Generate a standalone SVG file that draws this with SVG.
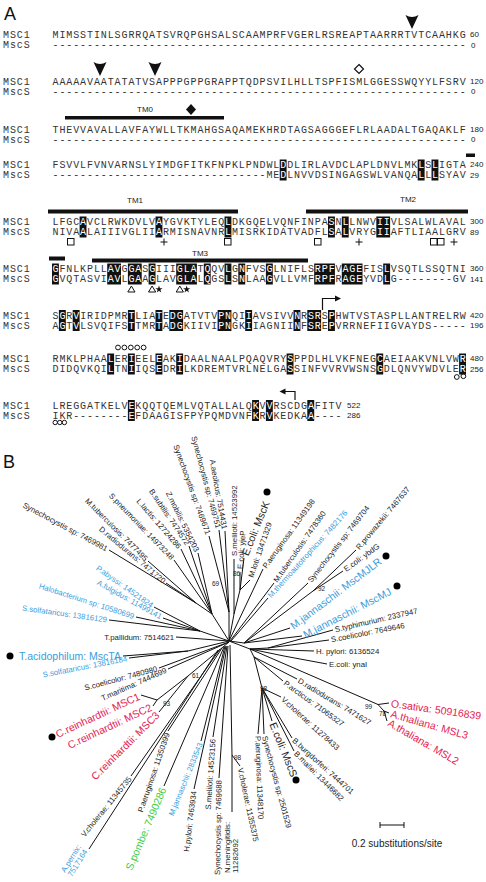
<svg xmlns="http://www.w3.org/2000/svg" width="486" height="882" viewBox="0 0 486 882">
<style>
.seq{font-family:"Liberation Mono",monospace;font-size:10px;letter-spacing:0.9px;fill:#333}
.w{fill:#fff}
.hl{fill:#111}
.num{font-family:"Liberation Sans",Arial,sans-serif;font-size:8px;fill:#222}
.tm{font-family:"Liberation Sans",Arial,sans-serif;font-size:8px;fill:#222}
.bar{fill:#111}
.sym{fill:none;stroke:#111;stroke-width:1}
.panel{font-family:"Liberation Sans",Arial,sans-serif;font-size:18px;fill:#111}
.t{font-family:"Liberation Sans",Arial,sans-serif;font-size:7.8px;fill:#222}
.e{text-anchor:end}
.b{font-size:10.5px}
.bl{fill:#3a9ddc}
.rd{fill:#e41b50}
.gr{fill:#3fcc3f}
.bs{font-family:"Liberation Sans",Arial,sans-serif;font-size:6.5px;fill:#222}
.edge{fill:none;stroke:#111;stroke-width:1}
.dot{fill:#000}
</style>
<defs>
<path id="arrowhead" d="M-6.5,0 Q0,4 6.5,0 L0,14 Z" fill="#111"/>
</defs>

<g id="panelA">
<text class="panel" x="4" y="20">A</text>

<g id="highlights">
<rect class="hl" x="279.7" y="159.5" width="6.9" height="21"/>
<rect class="hl" x="417.7" y="159.5" width="6.9" height="21"/>
<rect class="hl" x="431.5" y="159.5" width="6.9" height="21"/>

<rect class="hl" x="79.6" y="216.5" width="6.9" height="21"/>
<rect class="hl" x="155.5" y="216.5" width="6.9" height="21"/>
<rect class="hl" x="224.5" y="216.5" width="6.9" height="21"/>
<rect class="hl" x="328" y="216.5" width="6.9" height="21"/>
<rect class="hl" x="341.8" y="216.5" width="6.9" height="21"/>
<rect class="hl" x="376.3" y="216.5" width="13.8" height="21"/>

<rect class="hl" x="52" y="263.5" width="6.9" height="21"/>
<rect class="hl" x="107.2" y="263.5" width="13.8" height="21"/>
<rect class="hl" x="127.9" y="263.5" width="13.8" height="21"/>
<rect class="hl" x="148.6" y="263.5" width="6.9" height="21"/>
<rect class="hl" x="176.2" y="263.5" width="20.7" height="21"/>
<rect class="hl" x="203.8" y="263.5" width="6.9" height="21"/>
<rect class="hl" x="224.5" y="263.5" width="6.9" height="21"/>
<rect class="hl" x="238.3" y="263.5" width="6.9" height="21"/>
<rect class="hl" x="265.9" y="263.5" width="6.9" height="21"/>
<rect class="hl" x="314.2" y="263.5" width="20.7" height="21"/>
<rect class="hl" x="341.8" y="263.5" width="20.7" height="21"/>
<rect class="hl" x="383.2" y="263.5" width="6.9" height="21"/>

<rect class="hl" x="58.9" y="310" width="6.9" height="21"/>
<rect class="hl" x="72.7" y="310" width="6.9" height="21"/>
<rect class="hl" x="127.9" y="310" width="6.9" height="21"/>
<rect class="hl" x="155.5" y="310" width="6.9" height="21"/>
<rect class="hl" x="169.3" y="310" width="13.8" height="21"/>
<rect class="hl" x="217.6" y="310" width="13.8" height="21"/>
<rect class="hl" x="245.2" y="310" width="6.9" height="21"/>
<rect class="hl" x="293.5" y="310" width="6.9" height="21"/>
<rect class="hl" x="307.3" y="310" width="13.8" height="21"/>
<rect class="hl" x="328" y="310" width="6.9" height="21"/>

<rect class="hl" x="107.2" y="353.5" width="6.9" height="21"/>
<rect class="hl" x="127.9" y="353.5" width="6.9" height="21"/>
<rect class="hl" x="155.5" y="353.5" width="6.9" height="21"/>
<rect class="hl" x="176.2" y="353.5" width="6.9" height="21"/>
<rect class="hl" x="286.6" y="353.5" width="6.9" height="21"/>
<rect class="hl" x="376.3" y="353.5" width="6.9" height="21"/>
<rect class="hl" x="459.1" y="353.5" width="6.9" height="21"/>

<rect class="hl" x="127.9" y="400" width="6.9" height="21"/>
<rect class="hl" x="252.1" y="400" width="6.9" height="21"/>
<rect class="hl" x="265.9" y="400" width="6.9" height="21"/>
<rect class="hl" x="307.3" y="400" width="6.9" height="21"/>
</g>

<g class="seq">
<text x="3" y="38">MSC1</text><text x="3" y="48">MscS</text>
<text x="3" y="84.5">MSC1</text><text x="3" y="94.5">MscS</text>
<text x="3" y="132.5">MSC1</text><text x="3" y="142.5">MscS</text>
<text x="3" y="168">MSC1</text><text x="3" y="178">MscS</text>
<text x="3" y="225">MSC1</text><text x="3" y="235">MscS</text>
<text x="3" y="272">MSC1</text><text x="3" y="282">MscS</text>
<text x="3" y="318.5">MSC1</text><text x="3" y="328.5">MscS</text>
<text x="3" y="362">MSC1</text><text x="3" y="372">MscS</text>
<text x="3" y="408.5">MSC1</text><text x="3" y="418.5">MscS</text>
</g>

<g class="seq">
<text x="52.5" y="38">MIMSSTINLSGRRQATSVRQPGHSALSCAAMPRFVGERLRSREAPTAARRRTVTCAAHKG</text>
<text x="52.5" y="48">------------------------------------------------------------</text>
<text x="52.5" y="84.5">AAAAAVAATATATVSAPPPGPPGRAPPTQDPSVILHLLTSPFISMLGGESSWQYYLFSRV</text>
<text x="52.5" y="94.5">------------------------------------------------------------</text>
<text x="52.5" y="132.5">THEVVAVALLAVFAYWLLTKMAHGSAQAMEKHRDTAGSAGGGEFLRLAADALTGAQAKLF</text>
<text x="52.5" y="142.5">------------------------------------------------------------</text>
<text x="52.5" y="168">FSVVLFVNVARNSLYIMDGFITKFNPKLPNDWL<tspan class="w">D</tspan>DLIRLAVDCLAPLDNVLMK<tspan class="w">L</tspan>S<tspan class="w">L</tspan>IGTA</text>
<text x="52.5" y="178">-------------------------------ME<tspan class="w">D</tspan>LNVVDSINGAGSWLVANQA<tspan class="w">L</tspan>L<tspan class="w">L</tspan>SYAV</text>
<text x="52.5" y="225">LFGC<tspan class="w">A</tspan>VCLRWKDVLV<tspan class="w">A</tspan>YGVKTYLEQ<tspan class="w">L</tspan>DKGQELVQNFINPA<tspan class="w">S</tspan>N<tspan class="w">L</tspan>LNWV<tspan class="w">II</tspan>VLSALWLAVAL</text>
<text x="52.5" y="235">NIVA<tspan class="w">A</tspan>LAIIIVGLII<tspan class="w">A</tspan>RMISNAVNR<tspan class="w">L</tspan>MISRKIDATVADFL<tspan class="w">S</tspan>A<tspan class="w">L</tspan>VRYG<tspan class="w">II</tspan>AFTLIAALGRV</text>
<text x="52.5" y="272"><tspan class="w">G</tspan>FNLKPLL<tspan class="w">AV</tspan>G<tspan class="w">GA</tspan>S<tspan class="w">G</tspan>III<tspan class="w">GLA</tspan>T<tspan class="w">Q</tspan>QV<tspan class="w">L</tspan>G<tspan class="w">N</tspan>FVS<tspan class="w">G</tspan>LNIFLS<tspan class="w">RPF</tspan>V<tspan class="w">AGE</tspan>FIS<tspan class="w">L</tspan>VSQTLSSQTNI</text>
<text x="52.5" y="282"><tspan class="w">G</tspan>VQTASVI<tspan class="w">AV</tspan>L<tspan class="w">GA</tspan>A<tspan class="w">G</tspan>LAV<tspan class="w">GLA</tspan>L<tspan class="w">Q</tspan>GS<tspan class="w">L</tspan>S<tspan class="w">N</tspan>LAA<tspan class="w">G</tspan>VLLVMF<tspan class="w">RPF</tspan>R<tspan class="w">AGE</tspan>YVD<tspan class="w">L</tspan>G--------GV</text>
<text x="52.5" y="318.5">S<tspan class="w">G</tspan>R<tspan class="w">V</tspan>IRIDPMR<tspan class="w">T</tspan>LIA<tspan class="w">T</tspan>E<tspan class="w">DG</tspan>ATVTV<tspan class="w">PN</tspan>QI<tspan class="w">I</tspan>AVSIVV<tspan class="w">N</tspan>R<tspan class="w">SR</tspan>S<tspan class="w">P</tspan>HWTVSTASPLLANTRELRW</text>
<text x="52.5" y="328.5">A<tspan class="w">G</tspan>T<tspan class="w">V</tspan>LSVQIFS<tspan class="w">T</tspan>TMR<tspan class="w">T</tspan>A<tspan class="w">DG</tspan>KIIVI<tspan class="w">PN</tspan>GK<tspan class="w">I</tspan>IAGNII<tspan class="w">N</tspan>F<tspan class="w">SR</tspan>E<tspan class="w">P</tspan>VRRNEFIIGVAYDS-----</text>
<text x="52.5" y="362">RMKLPHAA<tspan class="w">L</tspan>ER<tspan class="w">I</tspan>EEL<tspan class="w">E</tspan>AK<tspan class="w">I</tspan>DAALNAALPQAQVRY<tspan class="w">S</tspan>PPDLHLVKFNEG<tspan class="w">C</tspan>AEIAAKVNLVW<tspan class="w">R</tspan></text>
<text x="52.5" y="372">DIDQVKQI<tspan class="w">L</tspan>TN<tspan class="w">I</tspan>IQS<tspan class="w">E</tspan>DR<tspan class="w">I</tspan>LKDREMTVRLNELGA<tspan class="w">S</tspan>SINFVVRVWSNS<tspan class="w">G</tspan>DLQNVYWDVLE<tspan class="w">R</tspan></text>
<text x="52.5" y="408.5">LREGGATKELV<tspan class="w">E</tspan>KQQTQEMLVQTALLALQ<tspan class="w">K</tspan>V<tspan class="w">V</tspan>RSCDG<tspan class="w">A</tspan>FITV</text>
<text x="52.5" y="418.5">IKR--------<tspan class="w">E</tspan>FDAAGISFPYPQMDVNF<tspan class="w">K</tspan>R<tspan class="w">V</tspan>KEDKA<tspan class="w">A</tspan>----</text>
</g>

<g class="num">
<text x="470" y="37">60</text><text x="471" y="47.5">0</text>
<text x="470" y="83.5">120</text><text x="471" y="94">0</text>
<text x="470" y="131.5">180</text><text x="471" y="142">0</text>
<text x="470" y="167">240</text><text x="470" y="177.5">29</text>
<text x="470" y="224">300</text><text x="470" y="234.5">89</text>
<text x="470" y="271">360</text><text x="470" y="281.5">141</text>
<text x="470" y="317.5">420</text><text x="470" y="328">196</text>
<text x="470" y="361">480</text><text x="470" y="371.5">256</text>
<text x="347" y="407.5">522</text><text x="347" y="418">286</text>
</g>

<g id="tm">
<text class="tm" x="137" y="112">TM0</text>
<rect class="bar" x="65" y="116" width="159" height="3.5"/>
<rect class="bar" x="466" y="153.5" width="9" height="3.5"/>
<text class="tm" x="127" y="203">TM1</text>
<rect class="bar" x="48" y="209.5" width="190" height="4"/>
<text class="tm" x="400" y="202">TM2</text>
<rect class="bar" x="306" y="209.5" width="162" height="4"/>
<rect class="bar" x="49" y="256.5" width="16" height="4"/>
<text class="tm" x="192" y="256">TM3</text>
<rect class="bar" x="92" y="258.5" width="216" height="4"/>
</g>

<g id="markers">
<use href="#arrowhead" x="412" y="15"/>
<use href="#arrowhead" x="100" y="62"/>
<use href="#arrowhead" x="155" y="62"/>
<polygon points="359,64.5 363.5,69 359,73.5 354.5,69" fill="#fff" stroke="#111" stroke-width="1.2"/>
<polygon points="191,104 196,109.5 191,115 186,109.5" fill="#111"/>

<rect class="sym" x="67.5" y="238.5" width="6.5" height="6.5"/>
<path class="sym" d="M164,238.5V245.5M160.5,242H167.5" stroke-width="1.3"/>
<rect class="sym" x="224.5" y="238.5" width="6.5" height="6.5"/>
<rect class="sym" x="314.5" y="238.5" width="6.5" height="6.5"/>
<path class="sym" d="M359,238.5V245.5M355.5,242H362.5" stroke-width="1.3"/>
<rect class="sym" x="430.5" y="238.5" width="6.5" height="6.5"/>
<rect class="sym" x="437.5" y="238.5" width="6.5" height="6.5"/>
<path class="sym" d="M454,238.5V245.5M450.5,242H457.5" stroke-width="1.3"/>

<polygon class="sym" points="131.4,286 135,292 127.8,292"/>
<polygon class="sym" points="152.1,286 155.7,292 148.5,292"/>
<polygon class="sym" points="179.8,286 183.4,292 176.2,292"/>
<polygon points="159,285.6 159.9,288.2 162.6,288.2 160.4,289.8 161.2,292.4 159,290.8 156.8,292.4 157.6,289.8 155.4,288.2 158.1,288.2" fill="#111"/>
<polygon points="186.7,285.6 187.6,288.2 190.3,288.2 188.1,289.8 188.9,292.4 186.7,290.8 184.5,292.4 185.3,289.8 183.1,288.2 185.8,288.2" fill="#111"/>

<path d="M322.5,310V298.5H336" fill="none" stroke="#111" stroke-width="1.2"/>
<polygon points="341,298.5 335,295.5 335,301.5" fill="#111"/>
<path d="M295,400V391.5H285" fill="none" stroke="#111" stroke-width="1.2"/>
<polygon points="279.5,391.5 285.5,388.5 285.5,394.5" fill="#111"/>

<g class="sym" stroke-width="1.1">
<circle cx="118" cy="347.5" r="2.4"/><circle cx="124.4" cy="347.5" r="2.4"/><circle cx="130.8" cy="347.5" r="2.4"/><circle cx="137.2" cy="347.5" r="2.4"/><circle cx="143.6" cy="347.5" r="2.4"/>
<circle cx="456.8" cy="377" r="2.4"/><circle cx="463.4" cy="376.2" r="2.4"/>
<circle cx="55.2" cy="422.5" r="2.2"/><circle cx="59.8" cy="422.5" r="2.2"/><circle cx="64.4" cy="422.5" r="2.2"/>
</g>
</g>
</g>

<g id="panelB">
<text class="panel" x="3" y="468">B</text>

<g id="connectors" class="edge">
<path d="M109,550L196,603M148,561L196,603M166,583L196,603M196,603L212,614M174,560L212,614M181,549L212,614M189,546L212,614M198,553L212,614M212,614L229,641"/>
<path d="M209,536L229,612M219,530L229,612M225,531L229,612M229,612L229,641"/>
<path d="M240,572L240,590M250,580L240,590M244,558L240,590M240,590L234,614M234,559L234,614M234,614L229,641"/>
<path d="M263,569L229,641M274,583L230,641M268,598L231,641"/>
<path d="M356,550L313,591M343,571L313,591M313,591L244,643M308,583L244,643M290,628L244,643M302,636L244,643M244,643L229,641"/>
<path d="M229,641L250,649M250,649L314,651M250,649L268,648L329,640M268,648L333,630M250,649L284,656L327,664"/>
<path d="M250,649L378,704.5L389,703M378,704.5L384,711L389,713M384,711L387,721"/>
<path d="M250,649L254,657M254,657L297,679M254,657L283,681M254,657L262,688M262,688L281,697M262,688L292,738M262,688L294,751M262,688L272,721M262,688L264,734M262,688L258,734"/>
<path d="M230,645L232,755M232,755L232,812M232,755L240,766"/>
<path d="M228,646L219,778M227,646L213,737M226,646L194,789M225,646L201,741M224,647L164,786M222,648L168,731M220,649L131,776M218,650L89,849"/>
<path d="M154,607L200,631M163,618L200,631M136,617L200,631M109,620L200,631M200,631L229,641"/>
<path d="M176,637L229,641M123,656L188,651M129,658L188,651M188,651L229,641M159,668L229,642M168,669L229,642"/>
<path d="M141,695L157,700M153,706L157,700M157,700L188,676M159,712L188,676M188,676L229,642"/>
</g>

<g id="bootstrap" class="bs">
<text x="212" y="586">69</text>
<text x="233" y="576">86</text>
<text x="318" y="591">92</text>
<text x="192" y="678">61</text>
<text x="163" y="706">93</text>
<text x="365" y="709">99</text>
<text x="379" y="716">78</text>
<text x="260" y="691">98</text>
<text x="234" y="760">98</text>
</g>

<g id="leaves">
<g id="l1"><text class="t e" transform="translate(109,550) rotate(28)" x="-2" dy=".35em">Synechocystis sp: 7469981</text></g>
<g id="l2"><text class="t e" transform="translate(148,561) rotate(45)" x="-2" dy=".35em">M.tuberculosis: 7477495</text></g>
<g id="l3"><text class="t e" transform="translate(166,583) rotate(40)" x="-2" dy=".35em">D.radiodurans: 7471720</text></g>
<g id="l4"><text class="t e" transform="translate(174,560) rotate(46)" x="-2" dy=".35em">S.pneumoniae: 14973248</text></g>
<g id="l5"><text class="t e" transform="translate(181,549) rotate(49)" x="-2" dy=".35em">L.lactis: 12724286</text></g>
<g id="l6"><text class="t e" transform="translate(189,546) rotate(56)" x="-2" dy=".35em">B.subtilis: 7474572</text></g>
<g id="l7"><text class="t e" transform="translate(198,553) rotate(64)" x="-2" dy=".35em">Z.mobilis: 5354203</text></g>
<g id="l8"><text class="t e" transform="translate(209,536) rotate(70)" x="-2" dy=".35em">Synechocystis sp: 7469671</text></g>
<g id="l9"><text class="t e" transform="translate(219,530) rotate(75)" x="-2" dy=".35em">Synechocystis sp: 7469751</text></g>
<g id="l10"><text class="t e" transform="translate(225,531) rotate(80)" x="-2" dy=".35em">A.aeolicus: 7514431</text></g>

<g id="l11"><text class="t" transform="translate(234,558) rotate(-90)" x="2" dy=".35em">S.meliloti: 14523992</text></g>
<g id="l12"><text class="t" transform="translate(240,571) rotate(-86)" x="2" dy=".35em">E.coli: yjeP</text></g>
<g id="l13"><text class="t" transform="translate(250,579) rotate(-71)" x="2" dy=".35em">M.loti: 13471329</text></g>
<g id="l14"><text class="t b" transform="translate(244,557) rotate(-68)" x="2" dy=".35em">E.coli: MscK</text><circle class="dot" cx="267" cy="492" r="3.5"/></g>
<g id="l15"><text class="t" transform="translate(263,569) rotate(-54)" x="2" dy=".35em">P.aeruginosa: 11349198</text></g>
<g id="l16"><text class="t" transform="translate(274,583) rotate(-55)" x="2" dy=".35em">M.tuberculosis: 7478360</text></g>
<g id="l17"><text class="t bl" transform="translate(268,598) rotate(-48)" x="2" dy=".35em">M.thermoautotrophicus: 7482176</text></g>
<g id="l18"><text class="t" transform="translate(308,583) rotate(-52)" x="2" dy=".35em">Synechocystis sp: 7469704</text></g>
<g id="l19"><text class="t" transform="translate(356,550) rotate(-50)" x="2" dy=".35em">R.prowazekii: 7467637</text></g>
<g id="l20"><text class="t" transform="translate(343,571) rotate(-36)" x="2" dy=".35em">E.coli: ybdG</text></g>
<g id="l21"><text class="t b bl" transform="translate(290,628) rotate(-37)" x="2" dy=".35em">M.jannaschii: MscMJLR</text><circle class="dot" cx="386" cy="556" r="3.5"/></g>
<g id="l22"><text class="t b bl" transform="translate(302,636) rotate(-27)" x="2" dy=".35em">M.jannaschii: MscMJ</text><circle class="dot" cx="397" cy="586" r="3.5"/></g>
<g id="l23"><text class="t" transform="translate(333,630) rotate(-13)" x="2" dy=".35em">S.typhimurium: 2337947</text></g>
<g id="l24"><text class="t" transform="translate(329,640) rotate(-11)" x="2" dy=".35em">S.coelicolor: 7649646</text></g>
<g id="l25"><text class="t" transform="translate(314,651)" x="2" dy=".35em">H. pylori: 6136524</text></g>
<g id="l26"><text class="t" transform="translate(327,664)" x="2" dy=".35em">E.coli: ynaI</text></g>
<g id="l27"><text class="t b rd" transform="translate(389,703) rotate(8)" x="2" dy=".35em">O.sativa: 50916839</text></g>
<g id="l28"><text class="t b rd" transform="translate(389,713) rotate(16)" x="2" dy=".35em">A.thaliana: MSL3</text></g>
<g id="l29"><text class="t b rd" transform="translate(387,721) rotate(30)" x="2" dy=".35em">A.thaliana: MSL2</text></g>
<g id="l30"><text class="t" transform="translate(297,679) rotate(31)" x="2" dy=".35em">D.radiodurans: 7471627</text></g>
<g id="l31"><text class="t" transform="translate(283,681) rotate(36)" x="2" dy=".35em">P.arcticus: 71065327</text></g>
<g id="l32"><text class="t" transform="translate(281,697) rotate(42)" x="2" dy=".35em">V.cholerae: 11278433</text></g>
<g id="l33"><text class="t" transform="translate(292,738) rotate(42)" x="2" dy=".35em">B.burgdorferi: 7444701</text></g>
<g id="l34"><text class="t" transform="translate(294,751) rotate(45)" x="2" dy=".35em">B.mallei: 13446682</text></g>
<g id="l35"><text class="t b" transform="translate(272,721) rotate(68)" x="2" dy=".35em">E.coli: MscS</text><circle class="dot" cx="296" cy="780" r="3.5"/></g>
<g id="l36"><text class="t" transform="translate(264,734) rotate(75)" x="2" dy=".35em">Synechocystis sp: 2501529</text></g>
<g id="l37"><text class="t" transform="translate(258,734) rotate(88)" x="2" dy=".35em">P.aeruginosa: 11348170</text></g>
<g id="l38"><text class="t" transform="translate(240,766) rotate(78)" x="2" dy=".35em">V.cholerae: 11355375</text></g>

<g id="l39"><text class="t" transform="translate(230,873) rotate(-90)"><tspan x="0" y="0">N.meningitidis:</tspan><tspan x="0" y="8">11282692</tspan></text></g>
<g id="l40"><text class="t e" transform="translate(219,778) rotate(-89)" x="-2" dy=".35em">Synechocystis sp: 7469688</text></g>
<g id="l41"><text class="t e" transform="translate(213,737) rotate(-86)" x="-2" dy=".35em">S.meliloti: 14523156</text></g>
<g id="l42"><text class="t e" transform="translate(194,789) rotate(-83)" x="-2" dy=".35em">H.pylori: 7463934</text></g>
<g id="l43"><text class="t e bl" transform="translate(201,741) rotate(-68)" x="-2" dy=".35em">M.jannaschii: 2833543</text></g>
<g id="l44"><text class="t e b gr" transform="translate(164,786) rotate(-67)" x="-2" dy=".35em">S.pombe: 7490286</text></g>
<g id="l45"><text class="t e" transform="translate(168,731) rotate(-71)" x="-2" dy=".35em">P.aeruginosa: 11350399</text></g>
<g id="l46"><text class="t e" transform="translate(131,776) rotate(-51)" x="-2" dy=".35em">V.cholerae: 11345735</text></g>
<g id="l47"><text class="t bl" transform="translate(65,873) rotate(-58)"><tspan x="0" y="0">A.pernix:</tspan><tspan x="0" y="8">7517164</tspan></text></g>

<g id="l48"><text class="t e bl" transform="translate(154,607) rotate(35)" x="-2" dy=".35em">P.abyssi: 14521824</text></g>
<g id="l49"><text class="t e bl" transform="translate(163,618) rotate(29)" x="-2" dy=".35em">A.fulgidus: 11499141</text></g>
<g id="l50"><text class="t e bl" transform="translate(136,617) rotate(18)" x="-2" dy=".35em">Halobacterium sp: 10580699</text></g>
<g id="l51"><text class="t e bl" transform="translate(109,620) rotate(8)" x="-2" dy=".35em">S.solfataricus: 13816129</text></g>
<g id="l52"><text class="t e" transform="translate(176,637)" x="-2" dy=".35em">T.pallidum: 7514621</text></g>
<g id="l53"><text class="t e b bl" transform="translate(123,656)" x="-2" dy=".35em">T.acidophilum: MscTA</text><circle class="dot" cx="10" cy="656" r="3.5"/></g>
<g id="l54"><text class="t e bl" transform="translate(129,658) rotate(-11)" x="-2" dy=".35em">S.solfataricus: 13816184</text></g>
<g id="l55"><text class="t e" transform="translate(159,668) rotate(-15)" x="-2" dy=".35em">S.coelicolor: 7480980</text></g>
<g id="l56"><text class="t e" transform="translate(168,669) rotate(-24)" x="-2" dy=".35em">T.maritima: 7444699</text></g>
<g id="l57"><text class="t e b rd" transform="translate(141,695) rotate(-25)" x="-2" dy=".35em">C.reinhardtii: MSC1</text><circle class="dot" cx="52" cy="737" r="3.5"/></g>
<g id="l58"><text class="t e b rd" transform="translate(153,706) rotate(-25)" x="-2" dy=".35em">C.reinhardtii: MSC2</text></g>
<g id="l59"><text class="t e b rd" transform="translate(159,712) rotate(-45)" x="-2" dy=".35em">C.reinhardtii: MSC3</text></g>
</g>

<g id="scalebar">
<path class="edge" d="M380,825H404M380,822V828M404,822V828"/>
<text class="t" x="397" y="847" text-anchor="middle" style="font-size:10px">0.2 substitutions/site</text>
</g>
</g>
</svg>
